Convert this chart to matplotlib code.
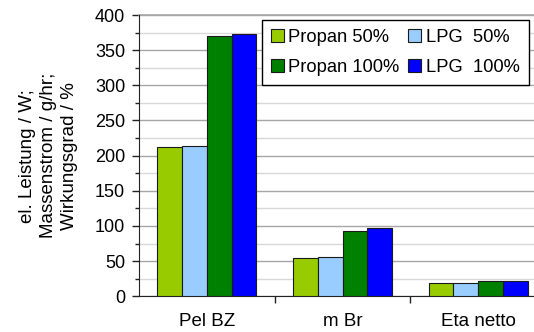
import matplotlib
matplotlib.use("Agg")
import matplotlib.pyplot as plt
from matplotlib.patches import Patch
from matplotlib.ticker import MultipleLocator, FixedLocator
import numpy as np

plt.rcParams["font.family"] = ["Liberation Sans", "DejaVu Sans"]

categories = ["Pel BZ", "m Br", "Eta netto"]
series_names = ["Propan 50%", "LPG  50%", "Propan 100%", "LPG  100%"]
propan_50 = [212, 54.5, 19]
lpg_50 = [213.5, 55.5, 18.5]
propan_100 = [370, 93.5, 22]
lpg_100 = [373, 97, 22]
series_colors = ["#99CC00", "#99CCFF", "#008000", "#0000FF"]

values = [propan_50, lpg_50, propan_100, lpg_100]

W, H = 534, 332
fig = plt.figure(figsize=(W / 100, H / 100), dpi=100)
# plot area runs slightly past the right edge of the canvas
ax = fig.add_axes([139 / W, 1 - 296.3 / H, (546 - 139) / W, (296.3 - 15) / H])

x = np.arange(len(categories))
bw = 0.182
offsets = (np.arange(4) - 1.5) * bw
for vals, off, col in zip(values, offsets, series_colors):
    ax.bar(x + off, vals, width=bw, color=col, edgecolor="#1a1a1a",
           linewidth=0.8, zorder=3)

ax.set_xlim(-0.5, 2.5)
ax.set_ylim(0, 400)

# gridlines: darker every 50, lighter every 25
ax.yaxis.set_major_locator(MultipleLocator(50))
ax.yaxis.set_minor_locator(MultipleLocator(25))
ax.grid(axis="y", which="major", color="#a6a6a6", linewidth=1.0, zorder=0)
ax.grid(axis="y", which="minor", color="#d9d9d9", linewidth=1.0, zorder=0)
ax.set_axisbelow(True)

ax.tick_params(axis="y", which="major", length=5, width=1, pad=5,
               labelsize=13, color="#222222")
ax.tick_params(axis="y", which="minor", length=3, width=1, color="#222222")

# category labels centred, tick marks at the group boundaries
ax.set_xticks(x)
ax.set_xticklabels(categories)
ax.xaxis.set_minor_locator(FixedLocator([0.5, 1.5]))
ax.tick_params(axis="x", which="major", length=0, pad=12, labelsize=13.5)
ax.tick_params(axis="x", which="minor", length=5, width=1, color="#222222")

for side in ["top", "right"]:
    ax.spines[side].set_visible(False)
ax.spines["left"].set_color("#222222")
ax.spines["bottom"].set_color("#222222")
ax.axhline(400, color="#a6a6a6", linewidth=1.2, zorder=1, clip_on=False)

ax.set_ylabel("el. Leistung / W;\nMassenstrom / g/hr;\nWirkungsgrad / %",
              fontsize=13.5, linespacing=1.3, labelpad=12)

handles = [Patch(facecolor=c, edgecolor="#1a1a1a", linewidth=0.8, label=n)
           for c, n in zip(series_colors, series_names)]
order = [0, 2, 1, 3]
leg = fig.legend([handles[i] for i in order],
                 [series_names[i] for i in order],
                 ncol=2, loc="upper left",
                 bbox_to_anchor=(261.5 / W, 1 - 20 / H),
                 fontsize=13.2, frameon=True, fancybox=False, framealpha=1,
                 edgecolor="black", handlelength=0.7, handleheight=0.7,
                 handletextpad=0.27, columnspacing=0.45, labelspacing=0.7,
                 borderpad=0.5, borderaxespad=0)
leg.get_frame().set_linewidth(1.0)

fig.savefig("out.png", dpi=100)
